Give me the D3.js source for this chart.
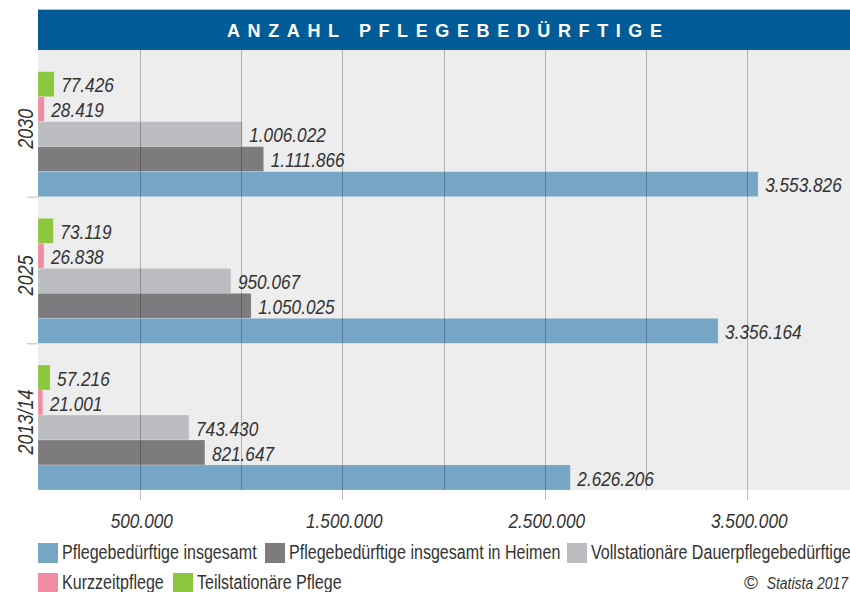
<!DOCTYPE html>
<html>
<head>
<meta charset="utf-8">
<script src="https://cdn.jsdelivr.net/npm/d3@7"></script>
<style>
  body { margin: 0; background: #fff; }
  svg text { font-family: "Liberation Sans", Arial, sans-serif; }
</style>
</head>
<body>
<div id="main"></div>
<script>
const w = 850, h = 592;

// data
const years = ['2030', '2025', '2013/14'];
const series = ['Teilstationäre Pflege', 'Kurzzeitpflege', 'Vollstationäre Dauerpflegebedürftige',
                'Pflegebedürftige insgesamt in Heimen', 'Pflegebedürftige insgesamt'];
const colors = ['#8dc63f', '#f08ca1', '#bcbdc1', '#7e7b7e', '#76a6c6'];
const teilstationaer = [77426, 73119, 57216];
const kurzzeit = [28419, 26838, 21001];
const vollstationaer = [1006022, 950067, 743430];
const heime = [1111866, 1050025, 821647];
const insgesamt = [3553826, 3356164, 2626206];
const gridTicks = [500000, 1000000, 1500000, 2000000, 2500000, 3000000, 3500000];
const labelTicks = [500000, 1500000, 2500000, 3500000];
const legendRows = [
  ['Pflegebedürftige insgesamt', 'Pflegebedürftige insgesamt in Heimen', 'Vollstationäre Dauerpflegebedürftige'],
  ['Kurzzeitpflege', 'Teilstationäre Pflege']
];

const values = [teilstationaer, kurzzeit, vollstationaer, heime, insgesamt];
const fmt = d3.formatLocale({decimal: ',', thousands: '.', grouping: [3], currency: ['', '€']}).format(',d');

// no condensed font installed, so squeeze Liberation Sans horizontally
const cond = 0.82;
const place = (px, py, rot) => `translate(${px},${py})` + (rot ? ` rotate(${rot})` : '') + ` scale(${cond},1)`;

const svg = d3.select('#main').append('svg')
  .attr('width', w)
  .attr('height', h);

const plotLeft = 38.5, plotTop = 50, plotBottom = 490, plotRight = 850;

const x = d3.scaleLinear().domain([0, 4000000]).range([plotLeft, plotLeft + 810]);
const y = d3.scaleBand().domain(years).range([plotTop, plotBottom]);
const inner = d3.scaleBand().domain(series)
  .range([y.bandwidth() - 125, y.bandwidth()]);

// title
svg.append('line')
  .attr('x1', 38).attr('x2', plotRight).attr('y1', 9.5).attr('y2', 9.5)
  .attr('stroke', '#a9c2d6');
svg.append('rect')
  .attr('x', 38).attr('y', 10).attr('width', plotRight - 38).attr('height', 40)
  .attr('fill', '#005b96');
svg.append('text')
  .text('ANZAHL PFLEGEBEDÜRFTIGE')
  .attr('x', 227).attr('y', 37)
  .attr('textLength', 435)
  .attr('lengthAdjust', 'spacing')
  .attr('fill', '#fff')
  .attr('font-weight', 'bold')
  .attr('font-size', 18);

// plot background
svg.append('rect')
  .attr('x', 38).attr('y', plotTop).attr('width', plotRight - 38).attr('height', plotBottom - plotTop)
  .attr('fill', '#ededed');

// bars
const rows = [];
years.forEach((yr, i) => {
  series.forEach((s, j) => rows.push({year: yr, series: s, value: values[j][i], color: colors[j]}));
});

svg.selectAll('.bar')
  .data(rows)
  .enter()
  .append('rect')
  .attr('class', 'bar')
  .attr('x', 38)
  .attr('y', d => y(d.year) + inner(d.series))
  .attr('width', d => x(d.value) - 38)
  .attr('height', inner.bandwidth())
  .attr('fill', d => d.color)
  .attr('stroke', 'rgba(255,255,255,0.25)')
  .attr('stroke-width', 0.8);

// grid lines over bars
svg.selectAll('.grid')
  .data(gridTicks)
  .enter()
  .append('line')
  .attr('x1', d => Math.round(x(d)) + 0.5)
  .attr('x2', d => Math.round(x(d)) + 0.5)
  .attr('y1', plotTop)
  .attr('y2', d => labelTicks.includes(d) ? plotBottom + 10 : plotBottom)
  .attr('stroke', '#000')
  .attr('stroke-opacity', 0.25);

// value labels
svg.selectAll('.val')
  .data(rows)
  .enter()
  .append('text')
  .text(d => fmt(d.value))
  .attr('transform', d => place(x(d.value) + 7, y(d.year) + inner(d.series) + inner.bandwidth() / 2 + 8))
  .attr('font-size', 21)
  .attr('font-style', 'italic')
  .attr('fill', '#333');

// year labels
svg.selectAll('.yr')
  .data(years)
  .enter()
  .append('text')
  .text(d => d)
  .attr('transform', d => place(33, y(d) + inner.range()[0] + 57, -90))
  .attr('text-anchor', 'middle')
  .attr('font-size', 22)
  .attr('font-style', 'italic')
  .attr('fill', '#333');

// band separators
svg.selectAll('.sep')
  .data(years.slice(1))
  .enter()
  .append('line')
  .attr('x1', 27).attr('x2', 38)
  .attr('y1', d => y(d) + 0.5).attr('y2', d => y(d) + 0.5)
  .attr('stroke', '#bbb');

// x axis labels
svg.selectAll('.xl')
  .data(labelTicks)
  .enter()
  .append('text')
  .text(d => fmt(d))
  .attr('transform', d => place(x(d) + 2, 528))
  .attr('text-anchor', 'middle')
  .attr('font-size', 21)
  .attr('font-style', 'italic')
  .attr('fill', '#333');

// legend
const legendX = [[38, 265, 567], [38, 173]];
legendRows.forEach((row, r) => {
  row.forEach((name, k) => {
    const g = svg.append('g')
      .attr('transform', `translate(${legendX[r][k]},${543 + r * 30})`);
    g.append('rect')
      .attr('width', 20).attr('height', 20)
      .attr('fill', colors[series.indexOf(name)]);
    g.append('text')
      .text(name)
      .attr('transform', place(24, 16))
      .attr('font-size', 19.6)
      .attr('fill', '#333');
  });
});

// source
svg.append('text')
  .text('©')
  .attr('x', 744).attr('y', 589)
  .attr('font-size', 19)
  .attr('fill', '#333');
svg.append('text')
  .text('Statista 2017')
  .attr('transform', place(848, 589))
  .attr('text-anchor', 'end')
  .attr('font-style', 'italic')
  .attr('font-size', 17)
  .attr('fill', '#333');
</script>
</body>
</html>
